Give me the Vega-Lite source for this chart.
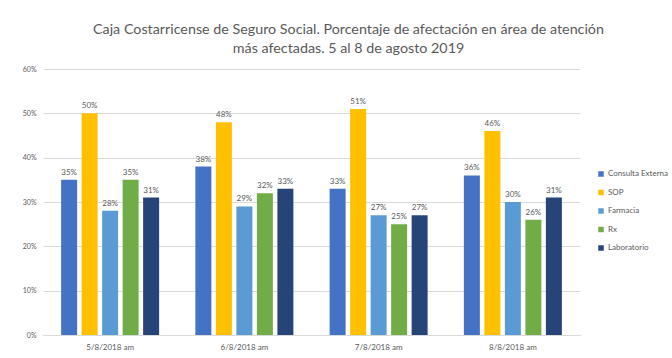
{
  "$schema": "https://vega.github.io/schema/vega-lite/v6.json",
  "width": 537,
  "height": 266,
  "autosize": {"type": "none"},
  "padding": {"left": 43, "top": 69, "right": 92, "bottom": 23},
  "background": "white",
  "title": {
    "text": ["Caja Costarricense de Seguro Social. Porcentaje de afectación en área de atención", "más afectadas. 5 al 8 de agosto 2019"],
    "anchor": "middle",
    "dx": 37,
    "offset": 9,
    "font": "Lato",
    "fontSize": 14.3,
    "fontWeight": "normal",
    "color": "#595959",
    "lineHeight": 18.5
  },
  "data": {
    "values": [
      {"fecha": "5/8/2018 am", "area": "Consulta Externa", "valor": 0.35},
      {"fecha": "5/8/2018 am", "area": "SOP", "valor": 0.50},
      {"fecha": "5/8/2018 am", "area": "Farmacia", "valor": 0.28},
      {"fecha": "5/8/2018 am", "area": "Rx", "valor": 0.35},
      {"fecha": "5/8/2018 am", "area": "Laboratorio", "valor": 0.31},
      {"fecha": "6/8/2018 am", "area": "Consulta Externa", "valor": 0.38},
      {"fecha": "6/8/2018 am", "area": "SOP", "valor": 0.48},
      {"fecha": "6/8/2018 am", "area": "Farmacia", "valor": 0.29},
      {"fecha": "6/8/2018 am", "area": "Rx", "valor": 0.32},
      {"fecha": "6/8/2018 am", "area": "Laboratorio", "valor": 0.33},
      {"fecha": "7/8/2018 am", "area": "Consulta Externa", "valor": 0.33},
      {"fecha": "7/8/2018 am", "area": "SOP", "valor": 0.51},
      {"fecha": "7/8/2018 am", "area": "Farmacia", "valor": 0.27},
      {"fecha": "7/8/2018 am", "area": "Rx", "valor": 0.25},
      {"fecha": "7/8/2018 am", "area": "Laboratorio", "valor": 0.27},
      {"fecha": "8/8/2018 am", "area": "Consulta Externa", "valor": 0.36},
      {"fecha": "8/8/2018 am", "area": "SOP", "valor": 0.46},
      {"fecha": "8/8/2018 am", "area": "Farmacia", "valor": 0.30},
      {"fecha": "8/8/2018 am", "area": "Rx", "valor": 0.26},
      {"fecha": "8/8/2018 am", "area": "Laboratorio", "valor": 0.31}
    ]
  },
  "encoding": {
    "x": {
      "field": "fecha",
      "type": "nominal",
      "sort": null,
      "title": null,
      "scale": {"paddingInner": 0.27, "paddingOuter": 0.135},
      "axis": {
        "labelAngle": 0,
        "ticks": false,
        "domainColor": "#d9d9d9",
        "labelFont": "Lato",
        "labelFontSize": 8,
        "labelColor": "#595959",
        "labelPadding": 8
      }
    },
    "xOffset": {
      "field": "area",
      "type": "nominal",
      "sort": ["Consulta Externa", "SOP", "Farmacia", "Rx", "Laboratorio"],
      "scale": {"paddingInner": 0.22, "paddingOuter": 0}
    },
    "y": {
      "field": "valor",
      "type": "quantitative",
      "title": null,
      "scale": {"domain": [0, 0.6]},
      "axis": {
        "format": ".0%",
        "values": [0, 0.1, 0.2, 0.3, 0.4, 0.5, 0.6],
        "domain": false,
        "ticks": false,
        "gridColor": "#d9d9d9",
        "labelFont": "Lato",
        "labelFontSize": 7,
        "labelColor": "#595959",
        "labelPadding": 7
      }
    }
  },
  "layer": [
    {
      "mark": {"type": "bar"},
      "encoding": {
        "color": {
          "field": "area",
          "type": "nominal",
          "sort": ["Consulta Externa", "SOP", "Farmacia", "Rx", "Laboratorio"],
          "scale": {
            "domain": ["Consulta Externa", "SOP", "Farmacia", "Rx", "Laboratorio"],
            "range": ["#4472C4", "#FFC000", "#5B9BD5", "#70AD47", "#264478"]
          },
          "legend": {
            "title": null,
            "orient": "none",
            "legendX": 554,
            "legendY": 101,
            "symbolType": "square",
            "symbolSize": 30,
            "symbolStrokeWidth": 0,
            "labelFont": "Lato",
            "labelFontSize": 8,
            "labelColor": "#595959",
            "rowPadding": 10.5,
            "labelOffset": 3
          }
        }
      }
    },
    {
      "mark": {"type": "text", "dy": -7, "font": "Lato", "fontSize": 8, "color": "#595959"},
      "encoding": {
        "text": {"field": "valor", "type": "quantitative", "format": ".0%"}
      }
    }
  ],
  "config": {
    "view": {"stroke": null}
  }
}
